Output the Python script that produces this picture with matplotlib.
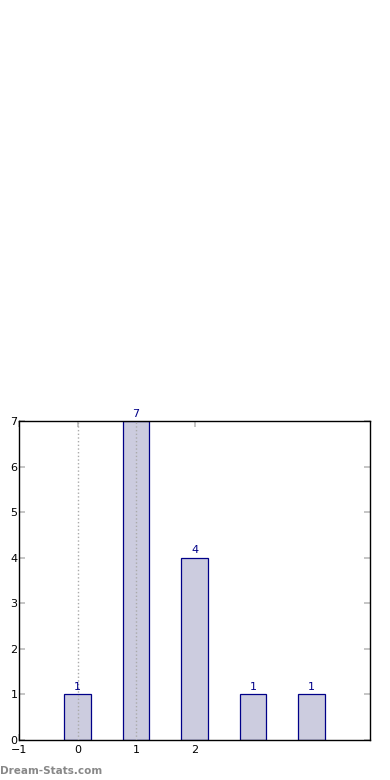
import matplotlib
matplotlib.use('Agg')
import matplotlib.pyplot as plt

# data
positions = [0, 1, 2, 3, 4]
counts = [1, 7, 4, 1, 1]
tick_pos = [-1, 0, 1, 2]
tick_labels = ['\u22121', '0', '1', '2']
guide_lines = [0, 1]

fig = plt.figure(figsize=(3.9, 7.8), dpi=100)
ax = fig.add_axes([19 / 390, 40 / 780, 351 / 390, 319 / 780])

for g in guide_lines:
    ax.axvline(g, color='#aaaaaa', linestyle=':', linewidth=1, zorder=3)

bars = ax.bar(positions, counts, width=0.45, color='#ccccdf',
              edgecolor='#000088', linewidth=0.9, zorder=2)
for b, c in zip(bars, counts):
    ax.text(b.get_x() + b.get_width() / 2, c + 0.05, str(c),
            ha='center', va='bottom', fontsize=8, color='#000088')

ax.set_xlim(-1, 5)
ax.set_ylim(0, 7)
ax.set_xticks(tick_pos)
ax.set_xticklabels(tick_labels)
ax.set_yticks(range(0, 8))
ax.tick_params(direction='in', length=4, width=1.2, color='#bbbbbb',
               labelsize=8, top=True, right=True)
ax.tick_params(axis='x', pad=3.5)
ax.tick_params(axis='y', pad=1)
for s in ax.spines.values():
    s.set_linewidth(1)

fig.text(0.0, 0.005, 'Dream-Stats.com', fontsize=7.5, color='#888888',
         fontweight='bold', ha='left', va='bottom')

fig.savefig('out.png', dpi=100)
